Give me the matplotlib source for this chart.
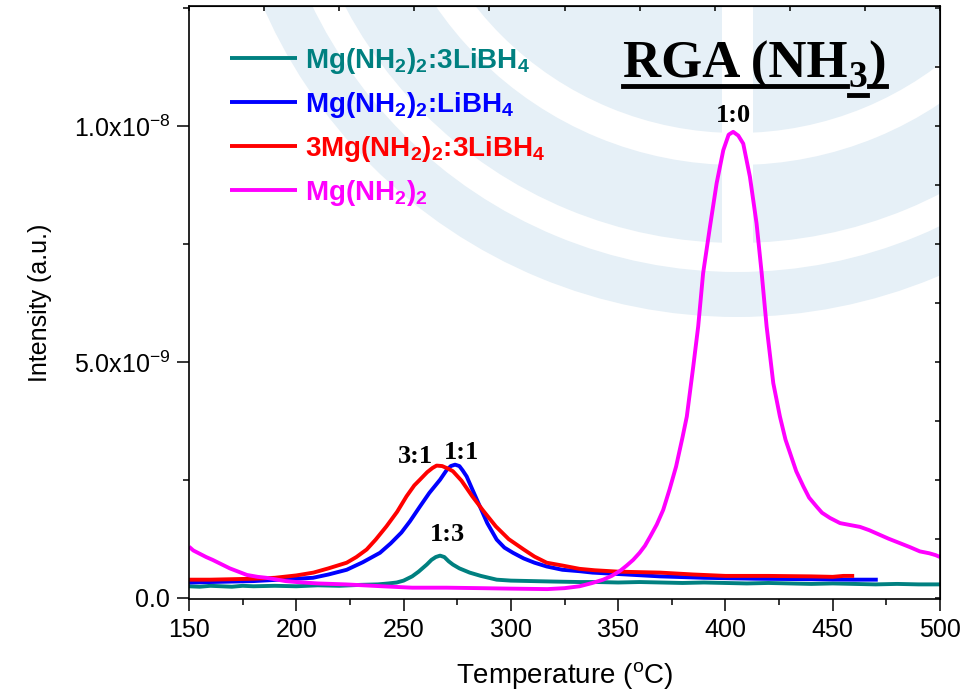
import numpy as np
import matplotlib
matplotlib.use("Agg")
import matplotlib.pyplot as plt
from matplotlib.patches import Wedge, Rectangle
from matplotlib.ticker import MultipleLocator

plt.rcParams['font.family'] = ['Liberation Sans', 'DejaVu Sans']
plt.rcParams['mathtext.fontset'] = 'custom'
plt.rcParams['mathtext.rm'] = 'Liberation Sans'
plt.rcParams['mathtext.sf'] = 'Liberation Sans:bold'
plt.rcParams['mathtext.bf'] = 'Liberation Serif:bold'

# RGA NH3 signal, intensity in units of 1e-9
t_mg = [150, 152, 155, 158, 161, 165, 169, 173, 177, 182, 186, 190, 195, 200, 210, 223,
        240, 254, 270, 286, 300, 317, 325, 332, 338, 343, 347, 351, 354, 357, 360, 362.5,
        365, 368, 371, 374, 377, 380, 382, 385, 387.3, 389.6, 392.8, 395.9, 399, 401.5,
        403.6, 406, 408.3, 411.4, 414.5, 416.9, 419.2, 422.3, 425.4, 428, 430.1, 433,
        436.3, 439, 442.5, 445, 448.7, 453.4, 458, 462.7, 467, 472, 476, 481, 486, 490.6,
        495, 498, 500]
i_mg = [1.08, 1.00, 0.93, 0.86, 0.80, 0.71, 0.62, 0.55, 0.48, 0.44, 0.42, 0.39, 0.35, 0.33,
        0.30, 0.28, 0.24, 0.21, 0.21, 0.20, 0.19, 0.18, 0.20, 0.24, 0.31, 0.38, 0.46, 0.57,
        0.68, 0.80, 0.95, 1.10, 1.30, 1.55, 1.86, 2.30, 2.78, 3.40, 3.84, 4.90, 5.75, 6.88,
        7.87, 8.79, 9.49, 9.82, 9.88, 9.80, 9.63, 8.93, 7.94, 6.88, 5.75, 4.55, 3.84, 3.35,
        3.07, 2.68, 2.36, 2.12, 1.93, 1.80, 1.69, 1.58, 1.54, 1.50, 1.43, 1.33, 1.25, 1.16,
        1.07, 0.98, 0.94, 0.90, 0.86]

t_31 = [150, 160, 170, 180, 190, 200, 208, 215, 223.5, 228, 232.8, 237, 242, 247, 251.4,
        255, 257.6, 261, 263.5, 265.4, 268, 271, 273, 277, 282, 287, 293, 299, 306, 311,
        316.7, 324, 332, 339, 350, 369.5, 385, 400, 420, 440, 450, 455, 460]
i_31 = [0.38, 0.38, 0.39, 0.40, 0.42, 0.47, 0.53, 0.62, 0.74, 0.86, 1.02, 1.23, 1.51, 1.82,
        2.15, 2.38, 2.50, 2.66, 2.75, 2.80, 2.79, 2.73, 2.68, 2.48, 2.15, 1.85, 1.51, 1.24,
        1.02, 0.87, 0.74, 0.68, 0.61, 0.58, 0.55, 0.53, 0.49, 0.46, 0.46, 0.45, 0.44, 0.46,
        0.46]

t_11 = [150, 160, 170, 180, 192, 200, 207.8, 215, 223.5, 231, 239, 244, 249, 253, 257.6,
        262, 267, 270, 272, 274, 276, 277.5, 279.4, 282, 285.6, 289, 293.4, 297, 301, 306,
        311, 316.7, 324, 332, 338, 350, 369.5, 390, 414, 440, 460, 471]
i_11 = [0.32, 0.33, 0.34, 0.35, 0.38, 0.40, 0.42, 0.49, 0.59, 0.75, 0.95, 1.15, 1.38, 1.62,
        1.93, 2.22, 2.50, 2.70, 2.79, 2.82, 2.79, 2.70, 2.57, 2.30, 1.93, 1.58, 1.23, 1.06,
        0.95, 0.83, 0.74, 0.66, 0.59, 0.56, 0.53, 0.50, 0.45, 0.42, 0.40, 0.39, 0.38, 0.38]

t_13 = [150, 155, 160, 165, 170, 175, 180, 190, 200, 210, 220, 230, 238, 243, 246.8, 250,
        254, 257, 260.8, 263, 265, 267, 269, 271, 273, 276, 280.8, 286, 293.4, 300, 310,
        320, 332, 340, 350, 360, 370, 380, 390, 400, 410, 420, 430, 440, 450, 460, 470,
        480, 490, 500]
i_13 = [0.24, 0.23, 0.25, 0.24, 0.23, 0.25, 0.24, 0.25, 0.24, 0.26, 0.25, 0.27, 0.28, 0.30,
        0.32, 0.36, 0.45, 0.55, 0.70, 0.80, 0.86, 0.89, 0.86, 0.77, 0.70, 0.62, 0.53, 0.46,
        0.38, 0.36, 0.35, 0.34, 0.33, 0.33, 0.32, 0.33, 0.32, 0.31, 0.32, 0.31, 0.30, 0.31,
        0.30, 0.29, 0.30, 0.29, 0.28, 0.29, 0.28, 0.28]

series = [
    (t_13, i_13, '#008080', r'Mg(NH$_\mathsf{2}$)$_\mathsf{2}$:3LiBH$_\mathsf{4}$'),
    (t_11, i_11, '#0000ff', r'Mg(NH$_\mathsf{2}$)$_\mathsf{2}$:LiBH$_\mathsf{4}$'),
    (t_31, i_31, '#ff0000', r'3Mg(NH$_\mathsf{2}$)$_\mathsf{2}$:3LiBH$_\mathsf{4}$'),
    (t_mg, i_mg, '#ff00ff', r'Mg(NH$_\mathsf{2}$)$_\mathsf{2}$'),
]

# peak tags: text, temperature, intensity (1e-9)
peak_tags = [('3:1', 255.5, 2.99), ('1:1', 277.1, 3.08), ('1:3', 270.4, 1.33), ('1:0', 403.6, 10.23)]

yticks = [0, 5e-9, 1e-8]
ylabels = ['0.0', r'5.0x10$^{-9}$', r'1.0x10$^{-8}$']

W, H = 963, 693
fig = plt.figure(figsize=(W / 100, H / 100), dpi=100)

# main axes, in pixel box
L, R, T, B = 189, 940, 6, 599
ax = fig.add_axes([L / W, (H - B) / H, (R - L) / W, (B - T) / H], zorder=2)
ax.set_facecolor('none')

# faint background emblem
bg = fig.add_axes([0, 0, 1, 1], zorder=0)
bg.set_xlim(0, W)
bg.set_ylim(H, 0)
bg.axis('off')
clip = Rectangle((L, T), R - L, B - T, transform=bg.transData, facecolor='none', edgecolor='none')
bg.add_patch(clip)
wm = '#e6f0f7'
cx, cy = 737, -200
for r_in, r_out in [(0, 333), (365, 443), (472, 517)]:
    w = Wedge((cx, cy), r_out, 0, 360, width=r_out - r_in, facecolor=wm, edgecolor='none')
    bg.add_patch(w)
    w.set_clip_path(clip)
gap = Rectangle((722, 0), 31, 255, facecolor='white', edgecolor='none')
bg.add_patch(gap)

for t, i, c, lab in series:
    ax.plot(t, np.array(i) * 1e-9, color=c, lw=2.8, label=lab, solid_capstyle='butt')

for txt, tx, ty in peak_tags:
    ax.text(tx, ty * 1e-9, txt, ha='center', va='center', fontsize=19,
            fontweight='bold', family='Liberation Serif')

ax.set_xlim(150, 500)
ax.set_ylim(-0.03e-9, 1.255e-8)
ax.set_xticks(np.arange(150, 501, 50))
ax.xaxis.set_minor_locator(MultipleLocator(25))
ax.set_yticks(yticks, ylabels)
ax.yaxis.set_minor_locator(MultipleLocator(2.5e-9))
ax.tick_params(which='both', direction='out', top=False, right=False, width=1.1, labelsize=18)
ax.tick_params(which='major', length=8.5, pad=5)
ax.tick_params(which='minor', length=4.5)
for s in ax.spines.values():
    s.set_linewidth(1.2)

top = ax.secondary_xaxis('top')
top.set_xticks(np.arange(150, 501, 35))
top.tick_params(direction='in', length=3.5, width=1.1, labeltop=False)
right = ax.secondary_yaxis('right')
right.set_yticks(np.arange(0, 1.26e-8, 1.25e-9))
right.tick_params(direction='in', length=3.5, width=1.1, labelright=False)

ax.set_xlabel(r'Temperature ($^\mathrm{o}$C)', fontsize=20, labelpad=13)
ax.set_ylabel('Intensity (a.u.)', fontsize=18, labelpad=16)

leg = ax.legend(loc='upper left', bbox_to_anchor=((230 - L) / (R - L), 1 - (46 - T) / (B - T)),
                frameon=False, borderaxespad=0, borderpad=0, handlelength=2.4,
                handletextpad=0.3, labelspacing=0.5,
                prop={'family': 'Liberation Sans', 'weight': 'bold', 'size': 20})
for txt, (_, _, c, _) in zip(leg.get_texts(), series):
    txt.set_color(c)
for ln in leg.get_lines():
    ln.set_linewidth(2.8)

# underlined header with subscript
rend = fig.canvas.get_renderer()
hx, hy = 623, 78
kw = dict(family='Liberation Serif', fontweight='bold', color='black', va='baseline', ha='left')
t1 = fig.text(hx / W, (H - hy) / H, 'RGA (NH', fontsize=38, **kw)
e1 = t1.get_window_extent(rend)
t2 = fig.text((e1.x1 + 1) / W, (H - hy - 9) / H, '3', fontsize=27, **kw)
e2 = t2.get_window_extent(rend)
t3 = fig.text((e2.x1 + 1) / W, (H - hy) / H, ')', fontsize=38, **kw)
e3 = t3.get_window_extent(rend)
uy = (H - 86) / H
fig.add_artist(plt.Line2D([hx / W, (e2.x0 - 2) / W], [uy, uy], color='black', lw=3.5))
fig.add_artist(plt.Line2D([(e2.x1 + 2) / W, e3.x1 / W], [uy, uy], color='black', lw=3.5))
fig.add_artist(plt.Line2D([e2.x0 / W, e2.x1 / W], [(H - 95) / H] * 2, color='black', lw=3.5))

fig.savefig('out.png', dpi=100)
